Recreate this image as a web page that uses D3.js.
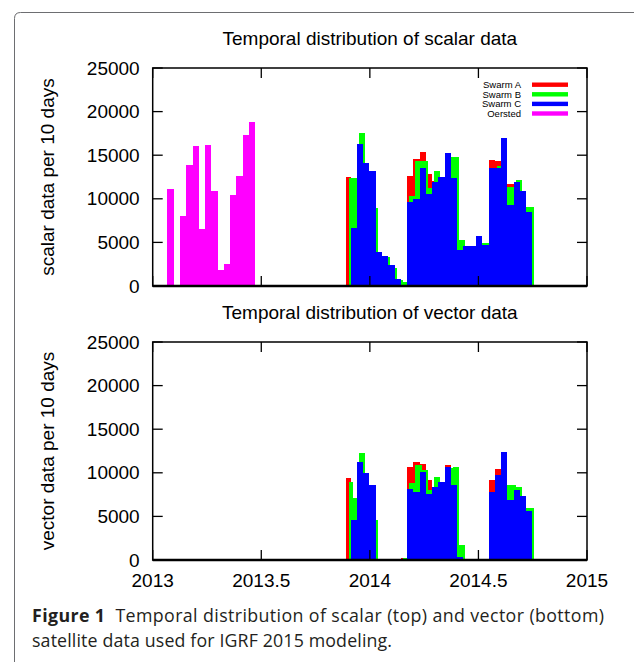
<!DOCTYPE html>
<html lang="en">
<head>
<meta charset="utf-8">
<title>Temporal distribution of satellite data</title>
<script src="https://d3js.org/d3.v7.min.js"></script>
<style>
  body { margin: 0; background: #fff; }
  svg { display: block; }
  .plot text { font-family: "Liberation Sans", Arial, sans-serif; fill: #000; }
  .caption { font-family: "Open Sans", "Noto Sans", sans-serif; font-size: 17.8px; fill: #231f20; }
</style>
</head>
<body>
<svg id="fig" width="634" height="662"></svg>
<script>
// ---- data (counts per bin) ----
var xTicks = [2013, 2013.5, 2014, 2014.5, 2015];
var yTicks = [0, 5000, 10000, 15000, 20000, 25000];
var seriesNames = ["Swarm A", "Swarm B", "Swarm C", "Oersted"];
var seriesColors = ["#ff0000", "#00ff00", "#0000ff", "#ff00ff"];

var binWidth = 0.02887;          // years per bin
var swarmOrigin = 2013.8827;     // start of first Swarm bin
var swarmFirstData = [2013.8913, 2013.9052, 2013.9116]; // A, B, C
var swarmShift = [0, 0.0092, 0];  // small offset of each satellite's bins
var oerstedOrigin = 2013.068;

var oerstedScalar = [11100, 0, 8060, 13870, 16020, 6540, 16130, 10930, 1870, 2520, 10440, 12650, 17320, 18840];

var swarmAScalar = [12540, 12000, 16000, 14000, 13000, 3800, 3400, 2400, 800, 350, 12580, 14560, 15400, 12840, 12000,
  12500, 15000, 12300, 4100, 4600, 4600, 5700, 4700, 14450, 14300, 16900, 11700, 11800, 10900, 8400];
var swarmBScalar = [12390, 12390, 17540, 13200, 8900, 3400, 3300, 2100, 700, 420, 10360, 14300, 14300, 11240, 13225,
  12500, 14800, 14830, 5310, 4600, 4600, 4930, 4930, 13400, 13760, 11390, 11390, 12120, 9020, 9020];
var swarmCScalar = [0, 6615, 16284, 14140, 13225, 3860, 3480, 2445, 800, 0, 9670, 9980, 13530, 10550, 11960,
  12540, 15210, 12350, 4160, 4620, 4620, 5770, 4740, 13495, 13495, 16970, 9290, 11890, 10930, 8450];

var swarmAVector = [9424, 7000, 11000, 9900, 8600, 100, 0, 0, 0, 230, 10650, 11186, 11033, 9194, 8400,
  8800, 10918, 8600, 300, 0, 0, 0, 0, 9194, 10459, 12300, 6800, 8000, 7300, 5600];
var swarmBVector = [8888, 7087, 12259, 8600, 4597, 0, 0, 0, 0, 230, 8811, 10840, 10343, 8045, 9500,
  8800, 10500, 10650, 1724, 0, 0, 0, 0, 7800, 9700, 8620, 8620, 8352, 5976, 5976];
var swarmCVector = [0, 4597, 11186, 9960, 8620, 115, 0, 0, 0, 0, 8160, 7853, 10037, 7585, 8428,
  8888, 10612, 8620, 306, 0, 0, 0, 0, 7853, 9769, 12374, 6896, 8045, 7356, 5670];

var panels = [
  { title: "Temporal distribution of scalar data", ylabel: "scalar data per 10 days", top: 68,
    swarm: [swarmAScalar, swarmBScalar, swarmCScalar], oersted: oerstedScalar, legend: true, xlabels: false },
  { title: "Temporal distribution of vector data", ylabel: "vector data per 10 days", top: 342,
    swarm: [swarmAVector, swarmBVector, swarmCVector], oersted: null, legend: false, xlabels: true }
];

// ---- layout ----
var left = 152.7, right = 587, plotH = 218, tickLen = 10;
var svg = d3.select("#fig");

// figure border (rounded top-left corner)
svg.append("path")
  .attr("d", "M14.5,662 L14.5,18.5 Q14.5,12.5 20.5,12.5 L634,12.5")
  .attr("fill", "none").attr("stroke", "#6d6e71").attr("stroke-width", 1);

var x = d3.scaleLinear().domain([2013, 2015]).range([left, right]);

function binBars(values, origin, shift, first) {
  var out = [];
  values.forEach(function (v, i) {
    var a = origin + i * binWidth + shift, b = a + binWidth;
    if (first !== undefined) a = Math.max(a, first);
    if (v > 0 && b > a) out.push({ x0: a, x1: b, v: v });
  });
  return out;
}

panels.forEach(function (p) {
  var g = svg.append("g").attr("class", "plot");
  var y = d3.scaleLinear().domain([0, 25000]).range([p.top + plotH, p.top]);

  // bars: Oersted, then Swarm A, B, C (C drawn on top)
  var layers = [];
  if (p.oersted) layers.push({ data: binBars(p.oersted, oerstedOrigin, 0), color: seriesColors[3] });
  p.swarm.forEach(function (vals, k) {
    layers.push({ data: binBars(vals, swarmOrigin, swarmShift[k], swarmFirstData[k]), color: seriesColors[k] });
  });
  layers.forEach(function (L) {
    g.append("g").attr("shape-rendering", "crispEdges")
      .selectAll("rect").data(L.data).enter().append("rect")
      .attr("x", function (d) { return x(d.x0); })
      .attr("width", function (d) { return x(d.x1) - x(d.x0); })
      .attr("y", function (d) { return y(d.v); })
      .attr("height", function (d) { return y(0) - y(d.v); })
      .attr("fill", L.color);
  });

  // frame
  g.append("rect").attr("x", left).attr("y", p.top).attr("width", right - left).attr("height", plotH)
    .attr("fill", "none").attr("stroke", "#000").attr("stroke-width", 1.5);
  g.append("line").attr("x1", left).attr("x2", right).attr("y1", y(0)).attr("y2", y(0))
    .attr("stroke", "#000").attr("stroke-width", 2.5);

  // inward ticks, mirrored on opposite side
  var ax = g.append("g").attr("stroke", "#000").attr("stroke-width", 1.3);
  xTicks.forEach(function (t) {
    ax.append("line").attr("x1", x(t)).attr("x2", x(t)).attr("y1", y(0)).attr("y2", y(0) - tickLen);
    ax.append("line").attr("x1", x(t)).attr("x2", x(t)).attr("y1", p.top).attr("y2", p.top + tickLen);
  });
  yTicks.forEach(function (t) {
    ax.append("line").attr("x1", left).attr("x2", left + tickLen).attr("y1", y(t)).attr("y2", y(t));
    ax.append("line").attr("x1", right).attr("x2", right - tickLen).attr("y1", y(t)).attr("y2", y(t));
  });

  // tick labels
  g.selectAll(".ylab").data(yTicks).enter().append("text")
    .attr("x", left - 13).attr("y", function (d) { return y(d); }).attr("dy", "0.35em")
    .attr("text-anchor", "end").style("font-size", "19px").text(function (d) { return d; });
  if (p.xlabels) {
    g.selectAll(".xlab").data(xTicks).enter().append("text")
      .attr("x", function (d) { return x(d); }).attr("y", y(0) + 27)
      .attr("text-anchor", "middle").style("font-size", "19px").text(function (d) { return d; });
  }

  // titles
  g.append("text").attr("x", (left + right) / 2).attr("y", p.top - 23)
    .attr("text-anchor", "middle").style("font-size", "19px").text(p.title);
  g.append("text").attr("transform", "translate(54," + (p.top + plotH / 2) + ") rotate(-90)")
    .attr("text-anchor", "middle").style("font-size", "19px").text(p.ylabel);

  // legend
  if (p.legend) {
    var lg = g.append("g");
    seriesNames.forEach(function (name, k) {
      var ly = p.top + 16.7 + k * 9.6;
      lg.append("text").attr("x", 521).attr("y", ly).attr("dy", "0.35em")
        .attr("text-anchor", "end").style("font-size", "9.5px").text(name);
      lg.append("rect").attr("x", 532).attr("y", ly - 2.2).attr("width", 36).attr("height", 4.4)
        .attr("fill", seriesColors[k]);
    });
  }
});

// caption
var cap = svg.append("text").attr("class", "caption").attr("x", 32).attr("y", 622)
  .attr("textLength", 572).attr("lengthAdjust", "spacing");
cap.append("tspan").style("font-weight", "bold").text("Figure 1");
cap.append("tspan").text("\u00a0\u00a0Temporal distribution of scalar (top) and vector (bottom)");
svg.append("text").attr("class", "caption").attr("x", 32).attr("y", 647)
  .attr("textLength", 360).attr("lengthAdjust", "spacing")
  .text("satellite data used for IGRF 2015 modeling.");
</script>
</body>
</html>
